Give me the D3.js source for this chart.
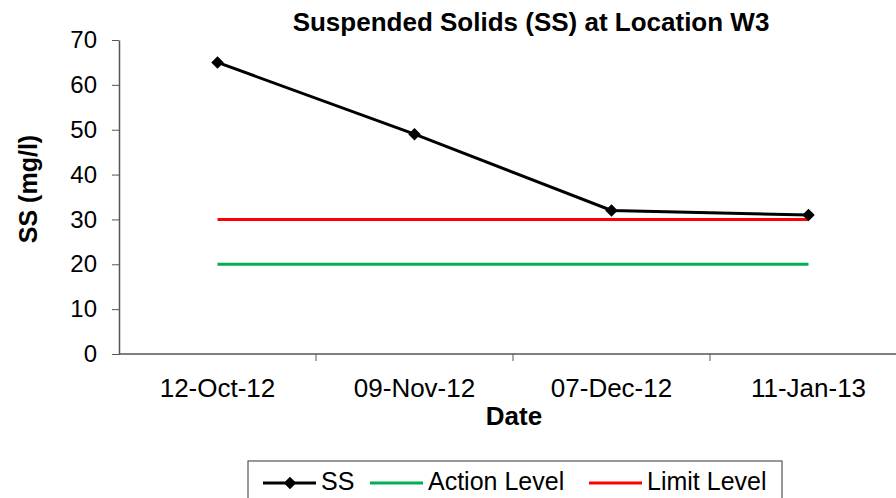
<!DOCTYPE html>
<html>
<head>
<meta charset="utf-8">
<script src="https://cdn.jsdelivr.net/npm/d3@7"></script>
<style>
  body { margin: 0; background: #fff; }
  svg { display: block; font-family: Arial, "Liberation Sans", sans-serif; }
</style>
</head>
<body>
<div id="chart"></div>
<script>
// données
const dates = ["12-Oct-12", "09-Nov-12", "07-Dec-12", "11-Jan-13"];
const ssValues = [65, 49, 32, 31];
const actionLevel = [20, 20, 20, 20];
const limitLevel = [30, 30, 30, 30];
const yTicks = [0, 10, 20, 30, 40, 50, 60, 70];

const width = 896, height = 498;
const margin = { left: 119, right: -11, top: 40, bottom: 144 };

const svg = d3.select("#chart").append("svg")
    .attr("width", width)
    .attr("height", height);

const x = d3.scaleBand()
    .domain(dates)
    .range([margin.left, width - margin.right]);

const y = d3.scaleLinear()
    .domain([0, 70])
    .range([height - margin.bottom, margin.top]);

// axe Y
const yAxis = svg.append("g")
    .attr("transform", "translate(" + margin.left + ",0)")
    .call(d3.axisLeft(y).tickValues(yTicks).tickSize(7).tickPadding(15).tickSizeOuter(0));
yAxis.select(".domain").attr("stroke", "#555").attr("stroke-width", 1.5);
yAxis.selectAll(".tick line").attr("stroke", "#555");
yAxis.selectAll("text").style("font-size", "24px").attr("fill", "#000");

// axe X (graduations entre les catégories)
const xAxis = svg.append("g")
    .attr("transform", "translate(0," + y(0) + ")");
xAxis.append("line")
    .attr("x1", margin.left).attr("x2", width)
    .attr("stroke", "#555").attr("stroke-width", 1.5);
xAxis.selectAll(".sep")
    .data(dates.slice(1))
    .enter().append("line")
    .attr("x1", d => x(d)).attr("x2", d => x(d))
    .attr("y1", 0).attr("y2", 7)
    .attr("stroke", "#555");
xAxis.selectAll(".lbl")
    .data(dates)
    .enter().append("text")
    .attr("x", d => x(d) + x.bandwidth() / 2)
    .attr("y", 43)
    .attr("text-anchor", "middle")
    .style("font-size", "26px")
    .text(d => d);

// lignes
const cx = d => x(d) + x.bandwidth() / 2;
const line = d3.line().x((d, i) => cx(dates[i])).y(d => y(d));

svg.append("path").datum(actionLevel)
    .attr("d", line).attr("fill", "none")
    .attr("stroke", "#00b050").attr("stroke-width", 3);
svg.append("path").datum(limitLevel)
    .attr("d", line).attr("fill", "none")
    .attr("stroke", "#ff0000").attr("stroke-width", 3);
svg.append("path").datum(ssValues)
    .attr("d", line).attr("fill", "none")
    .attr("stroke", "#000").attr("stroke-width", 3);

const diamond = d3.symbol().type(d3.symbolDiamond2).size(100);
svg.selectAll(".pt")
    .data(ssValues)
    .enter().append("path")
    .attr("d", diamond)
    .attr("transform", (d, i) => "translate(" + cx(dates[i]) + "," + y(d) + ")")
    .attr("fill", "#000");

// titres
svg.append("text")
    .attr("x", 531).attr("y", 31)
    .attr("text-anchor", "middle")
    .style("font-size", "26px").style("font-weight", "bold")
    .text("Suspended Solids (SS) at Location W3");

svg.append("text")
    .attr("x", 514).attr("y", 425)
    .attr("text-anchor", "middle")
    .style("font-size", "26px").style("font-weight", "bold")
    .text("Date");

svg.append("text")
    .attr("transform", "translate(37,189) rotate(-90)")
    .attr("text-anchor", "middle")
    .style("font-size", "25px").style("font-weight", "bold")
    .text("SS (mg/l)");

// légende
const legend = svg.append("g");
legend.append("rect")
    .attr("x", 248).attr("y", 461)
    .attr("width", 534).attr("height", 50)
    .attr("fill", "#fff").attr("stroke", "#555").attr("stroke-width", 1.2);

const legendItems = [
    { name: "SS", color: "#000", x: 263, marker: true },
    { name: "Action Level", color: "#00b050", x: 370, marker: false },
    { name: "Limit Level", color: "#ff0000", x: 589, marker: false }
];
legendItems.forEach(function(e) {
    legend.append("line")
        .attr("x1", e.x).attr("x2", e.x + 53)
        .attr("y1", 483).attr("y2", 483)
        .attr("stroke", e.color).attr("stroke-width", 3);
    if (e.marker) {
        legend.append("path")
            .attr("d", diamond)
            .attr("transform", "translate(" + (e.x + 27) + ",483)")
            .attr("fill", "#000");
    }
    legend.append("text")
        .attr("x", e.x + 58).attr("y", 490)
        .style("font-size", "25px")
        .text(e.name);
});
</script>
</body>
</html>
